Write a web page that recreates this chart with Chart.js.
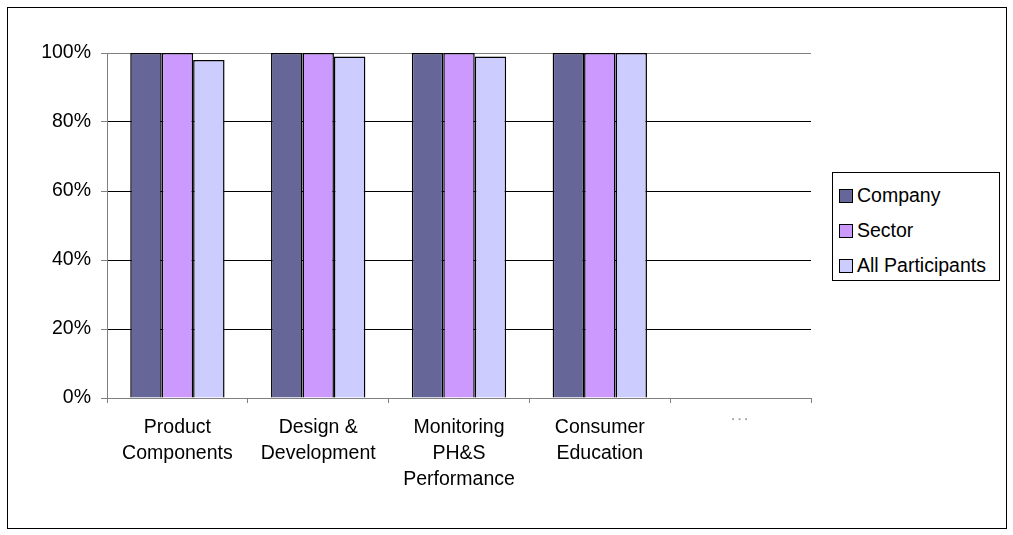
<!DOCTYPE html>
<html>
<head>
<meta charset="utf-8">
<script src="https://cdn.jsdelivr.net/npm/chart.js@4"></script>
<style>
  html, body { margin: 0; padding: 0; background: #fff; }
  #frame { position: absolute; left: 7px; top: 7px; width: 998px; height: 520px; border: 1px solid #000; }
  #grafico { position: absolute; left: 0; top: 0; }
  #legend { position: absolute; left: 824px; top: 164px; width: 166px; height: 107px; border: 1px solid #000;
    font-family: "Liberation Sans", Arial, sans-serif; font-size: 19.5px; color: #000; background: #fff; }
  #legend div { position: absolute; left: 6px; height: 22px; line-height: 22px; white-space: nowrap; }
  #legend span { display: inline-block; width: 12px; height: 12px; border: 1px solid #000; margin-right: 4px; vertical-align: -1px; }
</style>
</head>
<body>
<div id="frame">
  <canvas id="grafico" width="998" height="520"></canvas>
  <div id="legend"></div>
</div>
<script>
const categorias = [["Product", "Components"], ["Design &", "Development"], ["Monitoring", "PH&S", "Performance"], ["Consumer", "Education"], "˙˙˙"];
const series = ["Company", "Sector", "All Participants"];
const valoresCompany = [1.00, 1.00, 1.00, 1.00, null];
const valoresSector = [1.00, 1.00, 1.00, 1.00, null];
const valoresTodos = [0.98, 0.99, 0.99, 1.00, null];
const cores = ["#666699", "#CC99FF", "#CCCCFF"];
const ticksY = [0, 0.2, 0.4, 0.6, 0.8, 1.0];

const fonteY = { family: "'Liberation Sans', Arial, sans-serif", size: 19.5 };
const fonteX = { family: "'Liberation Sans', Arial, sans-serif", size: 19.5, lineHeight: 1.33 };

const dados = [valoresCompany, valoresSector, valoresTodos];

const grafico = new Chart(document.getElementById("grafico"), {
  type: "bar",
  data: {
    labels: categorias,
    datasets: series.map((nome, i) => ({
      label: nome,
      data: dados[i],
      backgroundColor: cores[i],
      borderColor: "#000",
      borderWidth: 1.5,
      categoryPercentage: 0.67,
      barPercentage: 1.0
    }))
  },
  options: {
    responsive: false,
    animation: false,
    devicePixelRatio: 1,
    layout: { padding: { top: 45, right: 195, left: 0, bottom: 0 } },
    plugins: { legend: { display: false }, tooltip: { enabled: false } },
    scales: {
      x: {
        grid: { drawOnChartArea: false, drawTicks: true, tickLength: 5, tickColor: "#808080", offset: true },
        border: { color: "#808080", width: 1 },
        ticks: {
          font: fonteX,
          color: (ctx) => ctx.index === 4 ? "#999" : "#000",
          padding: 12,
          maxRotation: 0,
          autoSkip: false
        },
        afterFit: (s) => { s.height = 130; }
      },
      y: {
        min: 0,
        max: 1,
        afterBuildTicks: (s) => { s.ticks = ticksY.map(v => ({ value: v })); },
        grid: {
          color: (ctx) => ctx.index === ticksY.length - 1 ? "#808080" : "#000",
          lineWidth: 1,
          tickLength: 6,
          tickColor: "#808080"
        },
        border: { color: "#808080", width: 1 },
        ticks: {
          font: fonteY,
          color: "#000",
          padding: 10,
          callback: (v) => Math.round(v * 100) + "%"
        },
        afterFit: (s) => { s.width = 99; }
      }
    }
  }
});

const legenda = document.getElementById("legend");
series.forEach((nome, i) => {
  const item = document.createElement("div");
  item.style.top = (11 + i * 35) + "px";
  item.innerHTML = '<span style="background:' + cores[i] + '"></span>' + nome;
  legenda.appendChild(item);
});
</script>
</body>
</html>
